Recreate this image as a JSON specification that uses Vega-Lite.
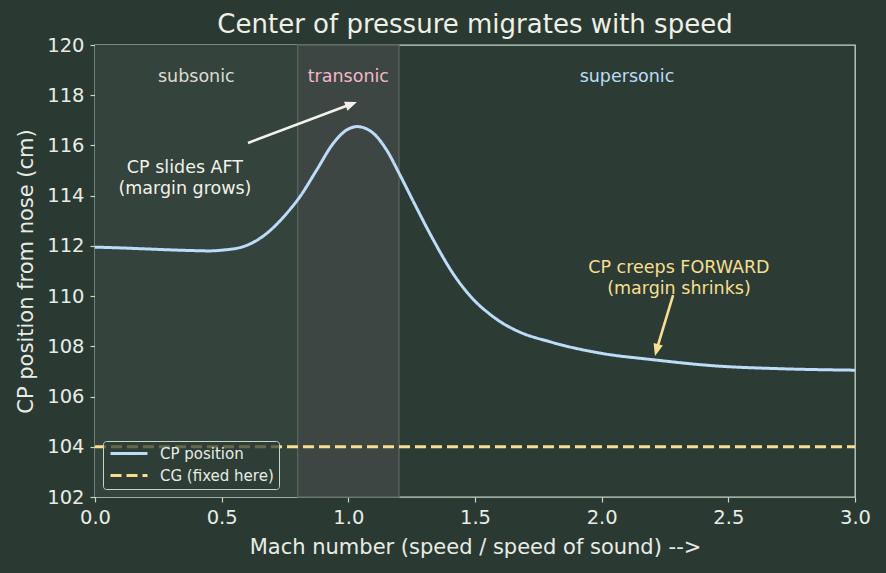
{
  "$schema": "https://vega.github.io/schema/vega-lite/v6.json",
  "width": 760,
  "height": 452,
  "autosize": {"type": "none"},
  "padding": {"left": 95, "top": 45, "right": 31, "bottom": 76},
  "background": "#2a3a33",
  "title": {
    "text": "Center of pressure migrates with speed",
    "color": "#eef0e6",
    "fontSize": 26,
    "font": "DejaVu Sans",
    "fontWeight": "normal",
    "offset": 0,
    "dy": 3
  },
  "config": {
    "font": "DejaVu Sans",
    "view": {"fill": "#2c3c35", "stroke": "#c8d6c8", "strokeWidth": 1.3},
    "axis": {
      "domain": false,
      "grid": false,
      "tickColor": "#c8d6c8",
      "tickSize": 5,
      "tickWidth": 1.2,
      "labelColor": "#e8ece4",
      "titleColor": "#e8ece4",
      "labelFontSize": 19.5,
      "titleFontSize": 21,
      "titleFontWeight": "normal",
      "labelPadding": 6,
      "labelFlush": false,
      "labelFont": "DejaVu Sans",
      "titleFont": "DejaVu Sans"
    },
    "legend": {
      "orient": "bottom-left",
      "offset": 8,
      "title": null,
      "fillColor": "rgba(44,60,53,0.72)",
      "strokeColor": "#c8d6c8",
      "cornerRadius": 3,
      "padding": 5,
      "rowPadding": 6,
      "labelColor": "#e8ece4",
      "labelFontSize": 15,
      "labelFont": "DejaVu Sans",
      "symbolType": "M-1,0 L6.4,0",
      "symbolSize": 100,
      "symbolStrokeWidth": 3,
      "labelOffset": 37
    }
  },
  "layer": [
    {
      "data": {"values": [
        {"region": "subsonic", "mach": 0, "mach_end": 0.8},
        {"region": "transonic", "mach": 0.8, "mach_end": 1.2}
      ]},
      "transform": [{"filter": "datum.region === 'subsonic'"}],
      "mark": {"type": "rect", "fill": "#34433c"},
      "encoding": {
        "x": {"field": "mach", "type": "quantitative"},
        "x2": {"field": "mach_end"}
      }
    },
    {
      "data": {"values": [
        {"region": "subsonic", "mach": 0, "mach_end": 0.8},
        {"region": "transonic", "mach": 0.8, "mach_end": 1.2}
      ]},
      "transform": [{"filter": "datum.region === 'transonic'"}],
      "mark": {"type": "rect", "fill": "#3d4643", "stroke": "#5a6560", "strokeWidth": 1.3},
      "encoding": {
        "x": {"field": "mach", "type": "quantitative"},
        "x2": {"field": "mach_end"}
      }
    },
    {
      "data": {"values": [
        {"series": "CG (fixed here)", "mach": 0, "cp": 104},
        {"series": "CG (fixed here)", "mach": 3, "cp": 104},
        {"series": "CP position", "mach": 0.0, "cp": 111.95},
        {"series": "CP position", "mach": 0.1, "cp": 111.92},
        {"series": "CP position", "mach": 0.2, "cp": 111.88},
        {"series": "CP position", "mach": 0.3, "cp": 111.84},
        {"series": "CP position", "mach": 0.4, "cp": 111.81},
        {"series": "CP position", "mach": 0.45, "cp": 111.8},
        {"series": "CP position", "mach": 0.5, "cp": 111.83},
        {"series": "CP position", "mach": 0.585, "cp": 111.97},
        {"series": "CP position", "mach": 0.678, "cp": 112.5},
        {"series": "CP position", "mach": 0.757, "cp": 113.3},
        {"series": "CP position", "mach": 0.809, "cp": 113.96},
        {"series": "CP position", "mach": 0.875, "cp": 115.02},
        {"series": "CP position", "mach": 0.941, "cp": 116.09},
        {"series": "CP position", "mach": 0.994, "cp": 116.62},
        {"series": "CP position", "mach": 1.035, "cp": 116.75},
        {"series": "CP position", "mach": 1.099, "cp": 116.48},
        {"series": "CP position", "mach": 1.151, "cp": 115.82},
        {"series": "CP position", "mach": 1.204, "cp": 114.82},
        {"series": "CP position", "mach": 1.257, "cp": 113.76},
        {"series": "CP position", "mach": 1.336, "cp": 112.23},
        {"series": "CP position", "mach": 1.41, "cp": 110.95},
        {"series": "CP position", "mach": 1.5, "cp": 109.8},
        {"series": "CP position", "mach": 1.55, "cp": 109.35},
        {"series": "CP position", "mach": 1.6, "cp": 108.98},
        {"series": "CP position", "mach": 1.665, "cp": 108.62},
        {"series": "CP position", "mach": 1.8, "cp": 108.17},
        {"series": "CP position", "mach": 2.0, "cp": 107.72},
        {"series": "CP position", "mach": 2.2, "cp": 107.47},
        {"series": "CP position", "mach": 2.45, "cp": 107.22},
        {"series": "CP position", "mach": 2.7, "cp": 107.11},
        {"series": "CP position", "mach": 3.0, "cp": 107.05}
      ]},
      "mark": {"type": "line", "strokeWidth": 3, "interpolate": "monotone"},
      "encoding": {
        "x": {
          "field": "mach",
          "type": "quantitative",
          "scale": {"domain": [0, 3], "nice": false, "zero": false},
          "axis": {"values": [0, 0.5, 1, 1.5, 2, 2.5, 3], "format": ".1f", "title": "Mach number (speed / speed of sound) -->", "titlePadding": 10}
        },
        "y": {
          "field": "cp",
          "type": "quantitative",
          "scale": {"domain": [102, 120], "nice": false, "zero": false},
          "axis": {"values": [102, 104, 106, 108, 110, 112, 114, 116, 118, 120], "title": "CP position from nose (cm)", "titlePadding": 10}
        },
        "color": {
          "field": "series",
          "type": "nominal",
          "scale": {"domain": ["CP position", "CG (fixed here)"], "range": ["#bcdcfa", "#f8df8f"]}
        },
        "strokeDash": {
          "field": "series",
          "type": "nominal",
          "scale": {"domain": ["CP position", "CG (fixed here)"], "range": [[1, 0], [11, 5]]}
        }
      }
    },
    {
      "data": {"values": [{"mach": 0.4, "cp": 118.73, "label": "subsonic"}]},
      "mark": {"type": "text", "color": "#dcdcd4", "fontSize": 17.5, "baseline": "middle"},
      "encoding": {
        "x": {"field": "mach", "type": "quantitative"},
        "y": {"field": "cp", "type": "quantitative"},
        "text": {"field": "label"}
      }
    },
    {
      "data": {"values": [{"mach": 1.0, "cp": 118.73, "label": "transonic"}]},
      "mark": {"type": "text", "color": "#f2b8c6", "fontSize": 17.5, "baseline": "middle"},
      "encoding": {
        "x": {"field": "mach", "type": "quantitative"},
        "y": {"field": "cp", "type": "quantitative"},
        "text": {"field": "label"}
      }
    },
    {
      "data": {"values": [{"mach": 2.1, "cp": 118.73, "label": "supersonic"}]},
      "mark": {"type": "text", "color": "#bcdcf4", "fontSize": 17.5, "baseline": "middle"},
      "encoding": {
        "x": {"field": "mach", "type": "quantitative"},
        "y": {"field": "cp", "type": "quantitative"},
        "text": {"field": "label"}
      }
    },
    {
      "data": {"values": [{"mach": 0.604, "cp": 116.1, "mach_end": 1.02, "cp_end": 117.68}]},
      "mark": {"type": "rule", "color": "#f2f2ea", "strokeWidth": 2.6},
      "encoding": {
        "x": {"field": "mach", "type": "quantitative"},
        "y": {"field": "cp", "type": "quantitative"},
        "x2": {"field": "mach_end"},
        "y2": {"field": "cp_end"}
      }
    },
    {
      "data": {"values": [{"mach": 1.034, "cp": 117.73, "heading": 69}]},
      "mark": {"type": "point", "shape": "M0,0 L-0.8,2 L0.8,2 Z", "filled": true, "opacity": 1, "color": "#f2f2ea", "size": 144, "strokeWidth": 0},
      "encoding": {
        "x": {"field": "mach", "type": "quantitative"},
        "y": {"field": "cp", "type": "quantitative"},
        "angle": {"field": "heading", "type": "quantitative", "scale": null}
      }
    },
    {
      "data": {"values": [{"mach": 2.282, "cp": 110.04, "mach_end": 2.215, "cp_end": 107.8}]},
      "mark": {"type": "rule", "color": "#f8df8f", "strokeWidth": 2.6},
      "encoding": {
        "x": {"field": "mach", "type": "quantitative"},
        "y": {"field": "cp", "type": "quantitative"},
        "x2": {"field": "mach_end"},
        "y2": {"field": "cp_end"}
      }
    },
    {
      "data": {"values": [{"mach": 2.2105, "cp": 107.62, "heading": 195.6}]},
      "mark": {"type": "point", "shape": "M0,0 L-0.8,2 L0.8,2 Z", "filled": true, "opacity": 1, "color": "#f8df8f", "size": 144, "strokeWidth": 0},
      "encoding": {
        "x": {"field": "mach", "type": "quantitative"},
        "y": {"field": "cp", "type": "quantitative"},
        "angle": {"field": "heading", "type": "quantitative", "scale": null}
      }
    },
    {
      "data": {"values": [{"mach": 0.355, "cp": 115.12, "label": "CP slides AFT\n(margin grows)"}]},
      "mark": {"type": "text", "color": "#f2f2ea", "fontSize": 17.5, "baseline": "middle", "lineBreak": "\n", "lineHeight": 21},
      "encoding": {
        "x": {"field": "mach", "type": "quantitative"},
        "y": {"field": "cp", "type": "quantitative"},
        "text": {"field": "label"}
      }
    },
    {
      "data": {"values": [{"mach": 2.305, "cp": 111.1, "label": "CP creeps FORWARD\n(margin shrinks)"}]},
      "mark": {"type": "text", "color": "#f8df8f", "fontSize": 17.5, "baseline": "middle", "lineBreak": "\n", "lineHeight": 21},
      "encoding": {
        "x": {"field": "mach", "type": "quantitative"},
        "y": {"field": "cp", "type": "quantitative"},
        "text": {"field": "label"}
      }
    }
  ]
}
